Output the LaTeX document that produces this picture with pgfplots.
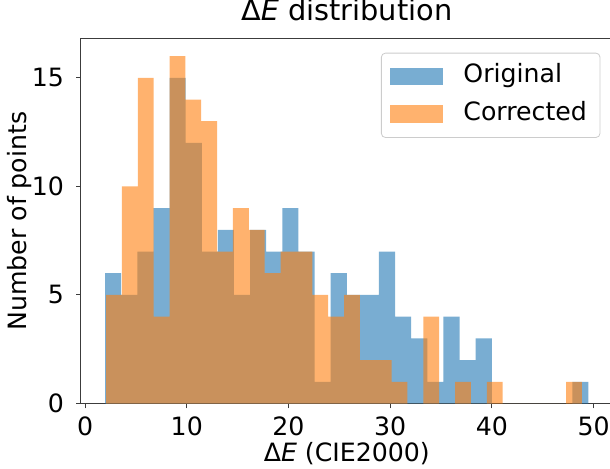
\documentclass[border=0pt]{standalone}
\usepackage{pgfplots}
\pgfplotsset{compat=1.18}
\usepackage{fontspec}
\setmainfont{DejaVu Sans}
\definecolor{tabblue}{RGB}{31,119,180}
\definecolor{taborange}{RGB}{255,127,14}
\definecolor{spine}{RGB}{60,60,60}
\newcommand{\figfont}{\fontsize{12.6}{15}\selectfont}

\begin{document}
\figfont
\begin{tikzpicture}
\path[use as bounding box, clip] (-40.45pt,-32.35pt) rectangle (264.4pt,201.65pt);
\begin{axis}[
    at={(0,0)}, anchor=south west,
    scale only axis, width=265.7pt, height=182.3pt,
    xmin=-0.406, xmax=51.866, ymin=0, ymax=16.8,
    xtick={0,10,20,30,40,50}, ytick={0,5,10,15},
    tick pos=left, tick align=outside,
    major tick length=2.45pt,
    every tick/.style={spine, line width=0.55pt},
    axis line style={spine, line width=0.55pt},
    /pgf/number format/assume math mode=true,
    tick label style={font=\figfont},
    xticklabel style={anchor=base, yshift=-13.35pt},
    yticklabel style={anchor=east, inner sep=0pt, xshift=-5.85pt},
    title={Δ\textit{E} distribution},
    title style={font=\fontsize{14.4}{17}\selectfont, at={(axis description cs:0.5,1.0157)}, anchor=base},
    xlabel={Δ\textit{E} (CIE2000)},
    xlabel style={font=\figfont, at={(axis description cs:0.5,-0.158)}, anchor=base},
    ylabel={Number of points},
    ylabel style={font=\figfont, at={(axis description cs:-0.1025,0.5)}, anchor=base},
    legend cell align=left,
    legend image code/.code={\fill[#1, sharp corners] (0pt,-4.4pt) rectangle (26.5pt,4.4pt);},
    legend style={font=\figfont, at={(axis description cs:0.977,0.9616)}, anchor=north east,
        draw=black!20, rounded corners=2pt, fill=white,
        inner xsep=4.5pt, inner ysep=3.5pt, row sep=2.75pt,
        nodes={inner xsep=2pt, inner ysep=2pt, text height=9.3pt, text depth=2.9pt},
        /tikz/every odd column/.append style={column sep=8pt}},
]
% Original (blue), 30 bins
\addplot[const plot, fill=tabblue, fill opacity=0.6, draw=none] coordinates {
(1.970,6) (3.554,5) (5.138,7) (6.722,9) (8.306,15) (9.890,12) (11.474,7) (13.058,8)
(14.642,5) (16.226,8) (17.810,7) (19.394,9) (20.978,7) (22.562,1) (24.146,6) (25.730,5)
(27.314,5) (28.898,7) (30.482,4) (32.066,3) (33.650,1) (35.234,4) (36.818,2) (38.402,3)
(39.986,0) (41.570,0) (43.154,0) (44.738,0) (46.322,0) (47.906,1) (49.490,1)
} \closedcycle;
\addlegendentry{Original}
% Corrected (orange), 30 bins
\addplot[const plot, fill=taborange, fill opacity=0.6, draw=none] coordinates {
(2.065,5) (3.625,10) (5.184,15) (6.744,4) (8.303,16) (9.863,14) (11.422,13) (12.982,7)
(14.541,9) (16.101,8) (17.660,6) (19.220,7) (20.779,7) (22.339,5) (23.898,4) (25.458,5)
(27.017,2) (28.577,2) (30.136,1) (31.696,0) (33.255,4) (34.815,0) (36.374,1) (37.934,0)
(39.493,1) (41.053,0) (42.612,0) (44.172,0) (45.731,0) (47.291,1) (48.850,1)
} \closedcycle;
\addlegendentry{Corrected}
\end{axis}
\end{tikzpicture}
\end{document}
